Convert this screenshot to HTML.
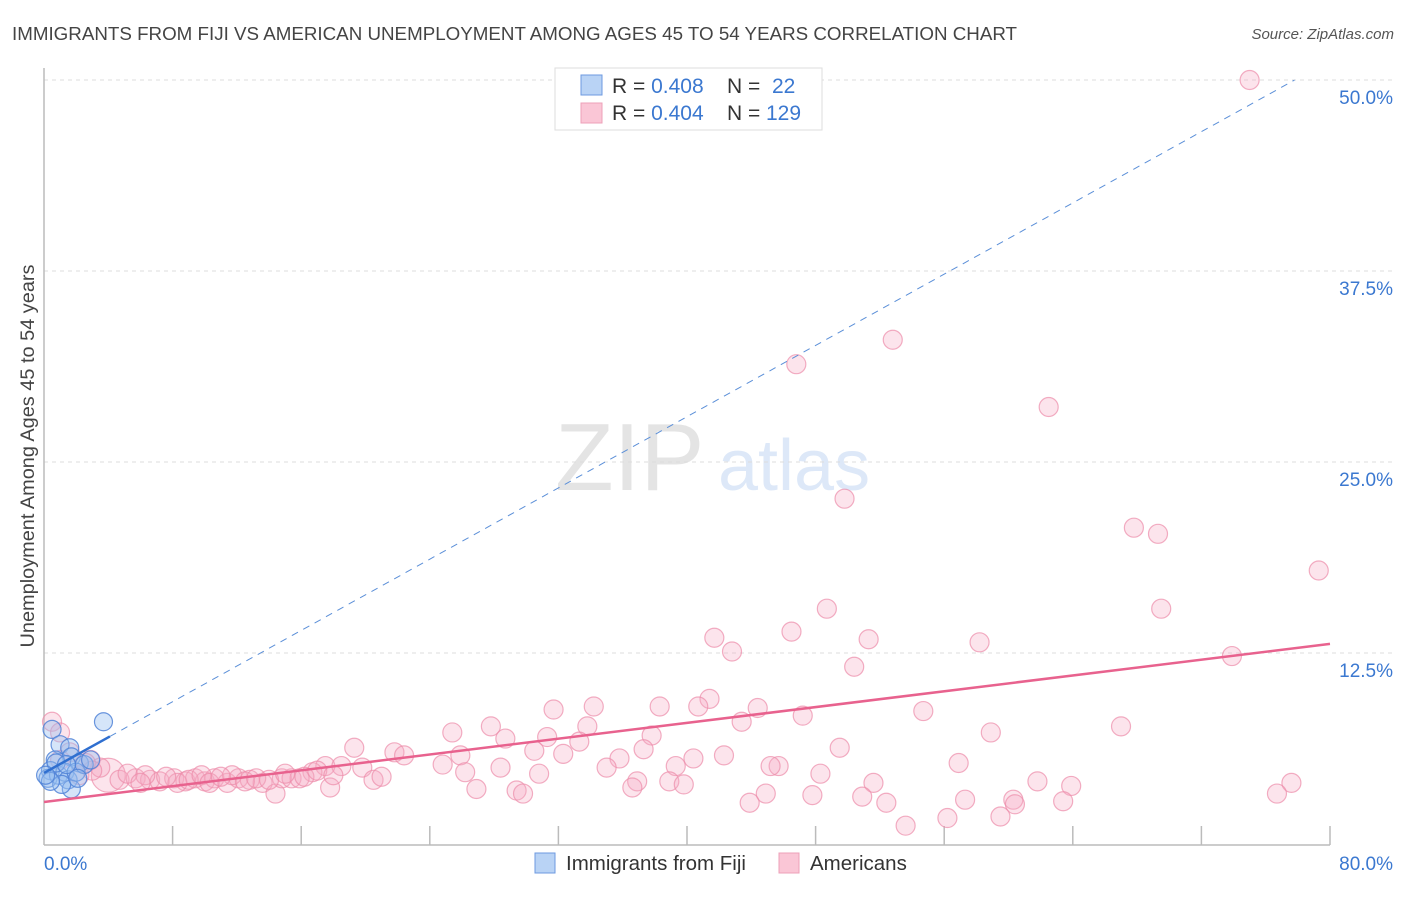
<!DOCTYPE html>
<html><head><meta charset="utf-8"><style>
body{margin:0;background:#fff;font-family:"Liberation Sans",sans-serif;}
svg text{font-family:"Liberation Sans",sans-serif;}
</style></head><body>
<svg id="c" width="1406" height="892">
<text x="12" y="40" font-size="18" fill="#444" textLength="1005" lengthAdjust="spacingAndGlyphs">IMMIGRANTS FROM FIJI VS AMERICAN UNEMPLOYMENT AMONG AGES 45 TO 54 YEARS CORRELATION CHART</text>
<text x="1394" y="39" font-size="15" fill="#555" font-style="italic" text-anchor="end">Source: ZipAtlas.com</text>
<text transform="translate(34,456) rotate(-90)" font-size="19" fill="#444" text-anchor="middle" textLength="383" lengthAdjust="spacingAndGlyphs">Unemployment Among Ages 45 to 54 years</text>
<g opacity="0.22">
<text x="555" y="490" font-size="96" font-family="Liberation Serif" fill="#888">ZIP</text>
<text x="718" y="490" font-size="72" fill="#6a9ae0">atlas</text>
</g>
<g id="grid"></g><g id="axes"></g><g id="pts"></g><g id="lines"></g>
<g>
<rect x="555" y="68" width="267" height="62" fill="#fff" stroke="#ddd"/>
<rect x="581" y="75" width="21" height="20" fill="#b9d3f5" stroke="#6d9ae0"/>
<rect x="581" y="103" width="21" height="20" fill="#fac6d6" stroke="#eda0b8"/>
<text x="612" y="93" font-size="21" fill="#333">R = <tspan fill="#3b78d0">0.408</tspan><tspan x="727">N = </tspan><tspan x="772" fill="#3b78d0">22</tspan></text>
<text x="612" y="120" font-size="21" fill="#333">R = <tspan fill="#3b78d0">0.404</tspan><tspan x="727">N = </tspan><tspan x="766" fill="#3b78d0">129</tspan></text>
</g>
<g>
<rect x="535" y="853" width="20" height="20" fill="#b9d3f5" stroke="#6d9ae0"/>
<text x="566" y="870" font-size="20.5" fill="#333">Immigrants from Fiji</text>
<rect x="779" y="853" width="20" height="20" fill="#fac6d6" stroke="#eda0b8"/>
<text x="810" y="870" font-size="20.5" fill="#333">Americans</text>
</g>
</svg>
<script>
const yTicks=[12.5,25,37.5,50];
const yTickLabels=["12.5%","25.0%","37.5%","50.0%"];
const xEnds=[0,80];
const xEndLabels=["0.0%","80.0%"];
const fijiX=[3.7,0.5,1.0,1.6,1.7,2.2,0.7,0.4,0.25,0.9,1.3,1.5,1.7,2.0,1.1,2.5,0.4,0.75,1.4,2.1,2.9,0.1];
const fijiY=[8.0,7.5,6.5,6.3,5.7,5.3,5.5,4.8,4.3,4.5,4.7,4.2,3.6,4.7,3.9,5.2,4.1,5.3,5.2,4.3,5.5,4.5];
const amX=[75.0,52.8,46.8,62.5,49.8,67.8,69.3,79.3,48.7,69.5,41.7,46.5,51.3,58.2,42.8,50.4,73.9,41.4,34.2,38.3,40.7,44.4,31.7,54.7,43.4,47.2,67.0,27.8,33.8,25.4,37.8,28.7,31.3,58.9,33.3,19.3,49.5,37.3,21.8,22.4,25.9,42.3,32.3,30.5,35.8,40.4,24.8,56.9,35.0,17.5,18.5,45.7,45.2,28.4,16.7,26.2,30.8,39.3,48.3,61.8,63.9,77.6,51.6,36.9,38.9,39.8,36.6,26.9,17.8,29.4,29.8,44.9,47.8,50.9,57.3,60.3,63.4,60.4,76.7,43.9,52.4,56.2,59.5,53.6,1.0,2.2,4.0,0.5,1.0,2.9,4.7,5.7,6.6,7.2,8.1,8.8,9.4,10.0,10.6,11.4,12.1,12.8,13.6,14.4,14.8,15.4,15.9,11.7,8.3,6.3,3.5,1.6,2.6,3.0,5.2,6.0,7.6,9.0,9.8,10.3,11.0,12.5,13.2,14.0,15.0,16.2,17.0,18.0,19.8,20.5,21.0];
const amY=[50.0,33.0,31.4,28.6,22.6,20.7,20.3,17.9,15.4,15.4,13.5,13.9,13.4,13.2,12.6,11.6,12.3,9.5,9.0,9.0,9.0,8.9,8.8,8.7,8.0,8.4,7.7,7.7,7.7,7.3,7.1,6.9,7.0,7.3,6.7,6.3,6.3,6.2,6.0,5.8,5.8,5.8,5.9,6.1,5.6,5.6,5.2,5.3,5.0,5.1,5.1,5.1,5.1,5.0,4.7,4.7,4.6,5.1,4.6,4.1,3.8,4.0,4.0,4.1,4.1,3.9,3.7,3.6,3.7,3.5,3.3,3.3,3.2,3.1,2.9,2.9,2.8,2.6,3.3,2.7,2.7,1.7,1.8,1.2,5.5,4.5,4.5,8.0,7.3,5.5,4.2,4.3,4.2,4.1,4.3,4.1,4.3,4.1,4.3,4.0,4.3,4.2,4.0,3.3,4.3,4.3,4.3,4.5,4.0,4.5,5.0,6.0,5.3,4.8,4.6,4.0,4.4,4.2,4.5,4.0,4.4,4.1,4.3,4.2,4.6,4.4,4.8,4.5,5.0,4.2,4.4];
const amBig=[86];
const amLine=[2.75,13.1];
const fijiLine=[4.65,50];
const fijiSolidEnd=4.1;
const X=v=>44+v*(1330-44)/80;
const Y=v=>844-v*(844-80)/50;
const NS="http://www.w3.org/2000/svg";
function mk(t,a,p){const e=document.createElementNS(NS,t);for(const k in a)e.setAttribute(k,a[k]);p.appendChild(e);return e;}
const grid=document.getElementById('grid'),axes=document.getElementById('axes'),pts=document.getElementById('pts'),lines=document.getElementById('lines');
yTicks.forEach((v,i)=>{
 const g=mk('line',{x1:44,x2:1395,y1:Y(v),y2:Y(v),stroke:'#ddd','stroke-dasharray':'4,4'},grid);
 
 
 const t=mk('text',{x:1393,y:Y(v)+24,'font-size':19,fill:'#3b78d0','text-anchor':'end'},grid);
 t.textContent=yTickLabels[i];
 
 
});
const ya=mk('line',{x1:44,x2:44,y1:68,y2:845,stroke:'#bbb','stroke-width':1.5},axes);


const xa=mk('line',{x1:44,x2:1330,y1:845,y2:845,stroke:'#bbb','stroke-width':1.5},axes);


for(let v=8;v<=80;v+=8){
 const tk=mk('line',{x1:X(v),x2:X(v),y1:826,y2:845,stroke:'#bbb','stroke-width':1.5},axes);
 
 
}
xEnds.forEach((v,i)=>{
 const t=mk('text',{x:i?1393:44,y:870,'font-size':19,fill:'#3b78d0','text-anchor':i?'end':'start'},axes);
 t.textContent=xEndLabels[i];
 
 
});
amX.forEach((v,i)=>{
 const c=mk('circle',{cx:X(v),cy:Y(amY[i]),r:amBig.includes(i)?17:9.5,fill:'rgba(246,170,196,0.32)',stroke:'rgba(236,140,170,0.7)','stroke-width':1.2},pts);
 
 
});
fijiX.forEach((v,i)=>{
 const c=mk('circle',{cx:X(v),cy:Y(fijiY[i]),r:9,fill:'rgba(150,190,240,0.4)',stroke:'rgba(80,130,215,0.85)','stroke-width':1.2},pts);
 
 
});
const fy=x=>fijiLine[0]+(fijiLine[1]-fijiLine[0])*x/77.8;
const d=mk('line',{x1:X(fijiSolidEnd),y1:Y(fy(fijiSolidEnd)),x2:X(77.8),y2:Y(fy(77.8)),stroke:'#5b8fd8','stroke-width':1,'stroke-dasharray':'7,6'},lines);


const s=mk('line',{x1:X(0),y1:Y(fy(0)),x2:X(fijiSolidEnd),y2:Y(fy(fijiSolidEnd)),stroke:'#2f6fd0','stroke-width':2.5},lines);


const p=mk('line',{x1:X(0),y1:Y(amLine[0]),x2:X(80),y2:Y(amLine[1]),stroke:'#e8628e','stroke-width':2.5},lines);


</script>
</body></html>
